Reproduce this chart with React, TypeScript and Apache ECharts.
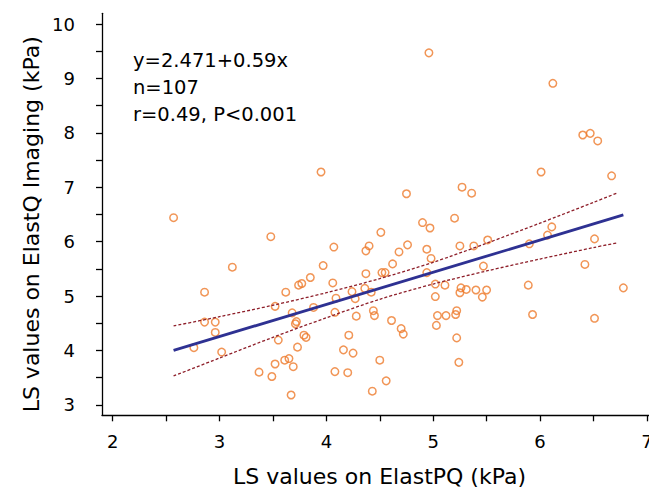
import React, { useEffect, useRef } from "react";
import * as echarts from "echarts";

const elastPQ = [
  2.57, 3.48, 3.12, 3.95, 4.96, 6.12, 6.40, 6.47, 6.54, 6.01,
  6.67, 6.11, 6.07, 6.51, 6.42, 6.78, 6.51, 4.75, 5.27, 5.36,
  5.20, 4.90, 4.97, 4.51, 4.40, 4.37, 4.76, 4.68, 4.94, 4.98,
  4.62, 5.25, 5.38, 5.51, 5.90, 5.47, 4.07, 3.97, 4.37, 4.52,
  4.55, 4.94, 4.06, 4.24, 4.27, 4.36, 4.42, 4.09, 5.02, 5.11,
  5.26, 5.25, 5.31, 5.40, 5.50, 5.46, 5.02, 5.89, 5.93, 4.44,
  4.45, 4.61, 4.70, 4.72, 5.04, 5.12, 5.21, 5.22, 5.03, 5.22,
  5.24, 4.50, 4.56, 4.43, 4.08, 4.28, 4.21, 4.16, 4.25, 4.08,
  4.20, 2.86, 3.85, 3.74, 3.77, 3.62, 3.52, 3.88, 3.68, 3.71,
  3.72, 2.86, 2.96, 2.96, 3.55, 3.79, 3.81, 2.76, 3.02, 3.73,
  3.52, 3.61, 3.65, 3.69, 3.37, 3.49, 3.67,
];

const elastQ = [
  6.44, 6.09, 5.53, 7.28, 9.47, 8.91, 7.96, 7.99, 7.85, 7.28,
  7.21, 6.27, 6.12, 6.05, 5.58, 5.15, 4.59, 6.88, 7.00, 6.89,
  6.43, 6.35, 6.25, 6.17, 5.92, 5.83, 5.94, 5.81, 5.86, 5.69,
  5.59, 5.92, 5.92, 6.03, 5.96, 5.55, 5.90, 5.56, 5.41, 5.43,
  5.43, 5.43, 5.24, 5.08, 4.95, 5.14, 5.07, 4.96, 5.22, 5.20,
  5.15, 5.06, 5.12, 5.11, 5.11, 4.98, 4.99, 5.20, 4.66, 4.73,
  4.64, 4.55, 4.40, 4.30, 4.64, 4.64, 4.66, 4.73, 4.46, 4.23,
  3.78, 3.82, 3.44, 3.25, 4.70, 4.63, 4.28, 4.01, 3.95, 3.61,
  3.59, 5.07, 5.34, 5.20, 5.23, 5.07, 4.81, 4.79, 4.69, 4.49,
  4.53, 4.52, 4.52, 4.33, 4.19, 4.28, 4.24, 4.05, 3.97, 4.06,
  3.75, 3.82, 3.85, 3.70, 3.60, 3.52, 3.18,
];

const fitX = [2.57, 6.78];
const fitY = [4.0, 6.49];

const ciX = [2.57, 3.0, 3.5, 4.0, 4.5, 5.0, 5.5, 6.0, 6.5, 6.73];
const ciUpper = [4.45, 4.62, 4.83, 5.06, 5.32, 5.62, 5.97, 6.34, 6.72, 6.9];
const ciLower = [3.53, 3.86, 4.24, 4.6, 4.94, 5.22, 5.46, 5.68, 5.89, 5.98];

const xTicks = [2, 2.5, 3, 3.5, 4, 4.5, 5, 5.5, 6, 6.5, 7];
const xLabels = [2, 3, 4, 5, 6, 7];
const yTicks = [3, 3.5, 4, 4.5, 5, 5.5, 6, 6.5, 7, 7.5, 8, 8.5, 9, 9.5, 10];
const yLabels = [3, 4, 5, 6, 7, 8, 9, 10];

const statLines = ["y=2.471+0.59x", "n=107", "r=0.49, P<0.001"];

const FONT = "DejaVu Sans";

export default function App() {
  const ref = useRef<HTMLDivElement>(null);
  useEffect(() => {
    document.body.style.margin = "0";
    if (!ref.current) return;
    const chart = echarts.init(ref.current, null, { renderer: "svg" });
    const axisCommon = {
      type: "value" as const,
      splitLine: { show: false },
      axisLine: { show: true, lineStyle: { color: "#000", width: 1.3 } },
      nameLocation: "middle" as const,
      nameMoveOverlap: false,
      nameTextStyle: { fontSize: 22, fontFamily: FONT, color: "#000" },
    };
    chart.setOption({
      animation: false,
      grid: {
        left: 102,
        right: 0,
        top: 13.3,
        bottom: 73.7,
        containLabel: false,
        outerBoundsMode: "none",
      },
      xAxis: {
        ...axisCommon,
        min: 1.9,
        max: 7.02,
        name: "LS values on ElastPQ (kPa)",
        nameGap: 50,
        nameTextStyle: { ...axisCommon.nameTextStyle, padding: [0, 0, 0, 8] },
        axisTick: { show: true, length: 6, customValues: xTicks, lineStyle: { color: "#000", width: 1.3 } },
        axisLabel: { customValues: xLabels, fontSize: 18, fontFamily: FONT, color: "#000", margin: 17 },
      },
      yAxis: {
        ...axisCommon,
        min: 2.807,
        max: 10.197,
        name: "LS values on ElastQ Imaging (kPa)",
        nameGap: 60,
        nameTextStyle: { ...axisCommon.nameTextStyle, padding: [0, 20, 0, 0] },
        axisTick: { show: true, length: 6, customValues: yTicks, lineStyle: { color: "#000", width: 1.3 } },
        axisLabel: {
          customValues: yLabels,
          fontSize: 18,
          fontFamily: FONT,
          color: "#000",
          margin: 8,
          align: "right",
          padding: [0, 19, 0, 0],
        },
      },
      graphic: statLines.map((t, i) => ({
        type: "text",
        x: 133,
        y: 60 + i * 27.3,
        style: {
          text: t,
          fontSize: 19.5,
          fontFamily: FONT,
          fill: "#000",
          align: "left",
          verticalAlign: "middle",
        },
      })),
      series: [
        {
          type: "scatter",
          data: elastPQ.map((x, i) => [x, elastQ[i]]),
          symbol: "circle",
          symbolSize: 7.5,
          itemStyle: { color: "rgba(0,0,0,0)", borderColor: "#EE7A2C", borderWidth: 1.5 },
          z: 2,
        },
        {
          type: "line",
          data: ciX.map((x, i) => [x, ciUpper[i]]),
          showSymbol: false,
          smooth: 0.3,
          lineStyle: { color: "#8E1F2A", width: 1.3, type: [3, 2] },
          z: 3,
        },
        {
          type: "line",
          data: ciX.map((x, i) => [x, ciLower[i]]),
          showSymbol: false,
          smooth: 0.3,
          lineStyle: { color: "#8E1F2A", width: 1.3, type: [3, 2] },
          z: 3,
        },
        {
          type: "line",
          data: fitX.map((x, i) => [x, fitY[i]]),
          showSymbol: false,
          lineStyle: { color: "#2E3192", width: 2.8 },
          z: 4,
        },
      ],
    });
    return () => chart.dispose();
  }, []);
  return <div ref={ref} style={{ width: 649, height: 489 }} />;
}
